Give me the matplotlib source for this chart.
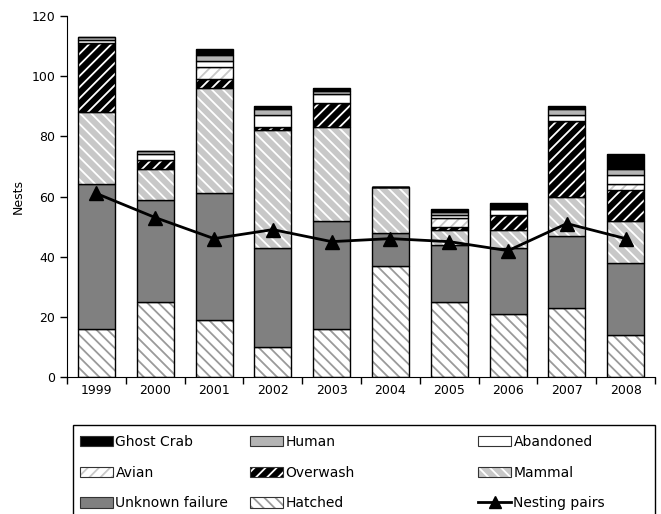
import numpy as np
import matplotlib.pyplot as plt
from matplotlib.patches import Patch, Rectangle
from matplotlib.lines import Line2D

years = ["1999", "2000", "2001", "2002", "2003", "2004", "2005", "2006", "2007", "2008"]

# stacked from bottom to top
hatched = [16, 25, 19, 10, 16, 37, 25, 21, 23, 14]
unknown = [48, 34, 42, 33, 36, 11, 19, 22, 24, 24]
mammal = [24, 10, 35, 39, 31, 15, 5, 6, 13, 14]
overwash = [23, 3, 3, 1, 8, 0, 1, 5, 25, 10]
avian = [0, 0, 4, 0, 0, 0, 3, 0, 0, 2]
abandoned = [1, 2, 2, 4, 3, 0, 1, 2, 2, 3]
human = [1, 1, 2, 2, 1, 0, 1, 0, 2, 2]
ghost_crab = [0, 0, 2, 1, 1, 0, 1, 2, 1, 5]
nesting_pairs = [61, 53, 46, 49, 45, 46, 45, 42, 51, 46]

plt.rcParams["font.family"] = "DejaVu Sans"
plt.rcParams["hatch.linewidth"] = 1.3

# name, values, fill, hatch colour, hatch
series = [
    ("Hatched", hatched, "white", "#9a9a9a", "\\\\\\"),
    ("Unknown failure", unknown, "#808080", "#808080", ""),
    ("Mammal", mammal, "#c8c8c8", "white", "\\\\\\"),
    ("Overwash", overwash, "black", "white", "///"),
    ("Avian", avian, "white", "#c8c8c8", "///"),
    ("Abandoned", abandoned, "white", "white", ""),
    ("Human", human, "#b4b4b4", "#b4b4b4", ""),
    ("Ghost Crab", ghost_crab, "black", "black", ""),
]

fig = plt.figure(figsize=(6.61, 5.14), dpi=100)
ax = fig.add_axes([0.1014, 0.2665, 0.8896, 0.7024])

x = np.arange(len(years))
width = 0.63
bottom = np.zeros(len(years))
handles = {}
for name, vals, fc, hc, hatch in series:
    vals = np.array(vals, dtype=float)
    ax.bar(x, vals, width, bottom=bottom, color=fc, edgecolor=hc, hatch=hatch, linewidth=0)
    ax.bar(x, vals, width, bottom=bottom, fill=False, edgecolor="black", linewidth=1)
    handles[name] = (Patch(facecolor=fc, edgecolor=hc, hatch=hatch, linewidth=0),
                     Patch(fill=False, edgecolor="#333333", linewidth=0.8))
    bottom += vals

ax.plot(x, nesting_pairs, color="black", lw=2, marker="^", ms=10, zorder=5)
handles["Nesting pairs"] = Line2D([], [], color="black", lw=2, marker="^", ms=9)

ax.set_xlim(-0.5, len(years) - 0.5)
ax.set_ylim(0, 120)
ax.set_yticks(np.arange(0, 121, 20))
ax.set_xticks(x)
ax.set_xticklabels(years)
ax.set_xticks(np.arange(-0.5, len(years), 1), minor=True)
ax.tick_params(axis="x", which="major", length=0, labelsize=9, pad=5)
ax.tick_params(axis="x", which="minor", length=5, direction="out", width=1)
ax.tick_params(axis="y", labelsize=9, length=5, width=1)
ax.spines["top"].set_visible(False)
ax.spines["right"].set_visible(False)
ax.set_ylabel("Nests", fontsize=9, labelpad=5)

# legend frame
fig.patches.append(Rectangle((73 / 661, -0.02), (655 - 73) / 661, 1 - 425 / 514 + 0.02,
                             transform=fig.transFigure, fill=False, edgecolor="black", lw=1))

cols = [
    (80, ["Ghost Crab", "Avian", "Unknown failure"]),
    (250, ["Human", "Overwash", "Hatched"]),
    (478, ["Abandoned", "Mammal", "Nesting pairs"]),
]
for xpos, names in cols:
    fig.legend([handles[n] for n in names], names, loc="upper left",
               bbox_to_anchor=(xpos / 661, 1 - 435 / 514), frameon=False,
               fontsize=10, borderpad=0, borderaxespad=0, handlelength=2.4,
               handleheight=0.8, handletextpad=0.15, labelspacing=1.2)

fig.savefig("out.png", dpi=100)
